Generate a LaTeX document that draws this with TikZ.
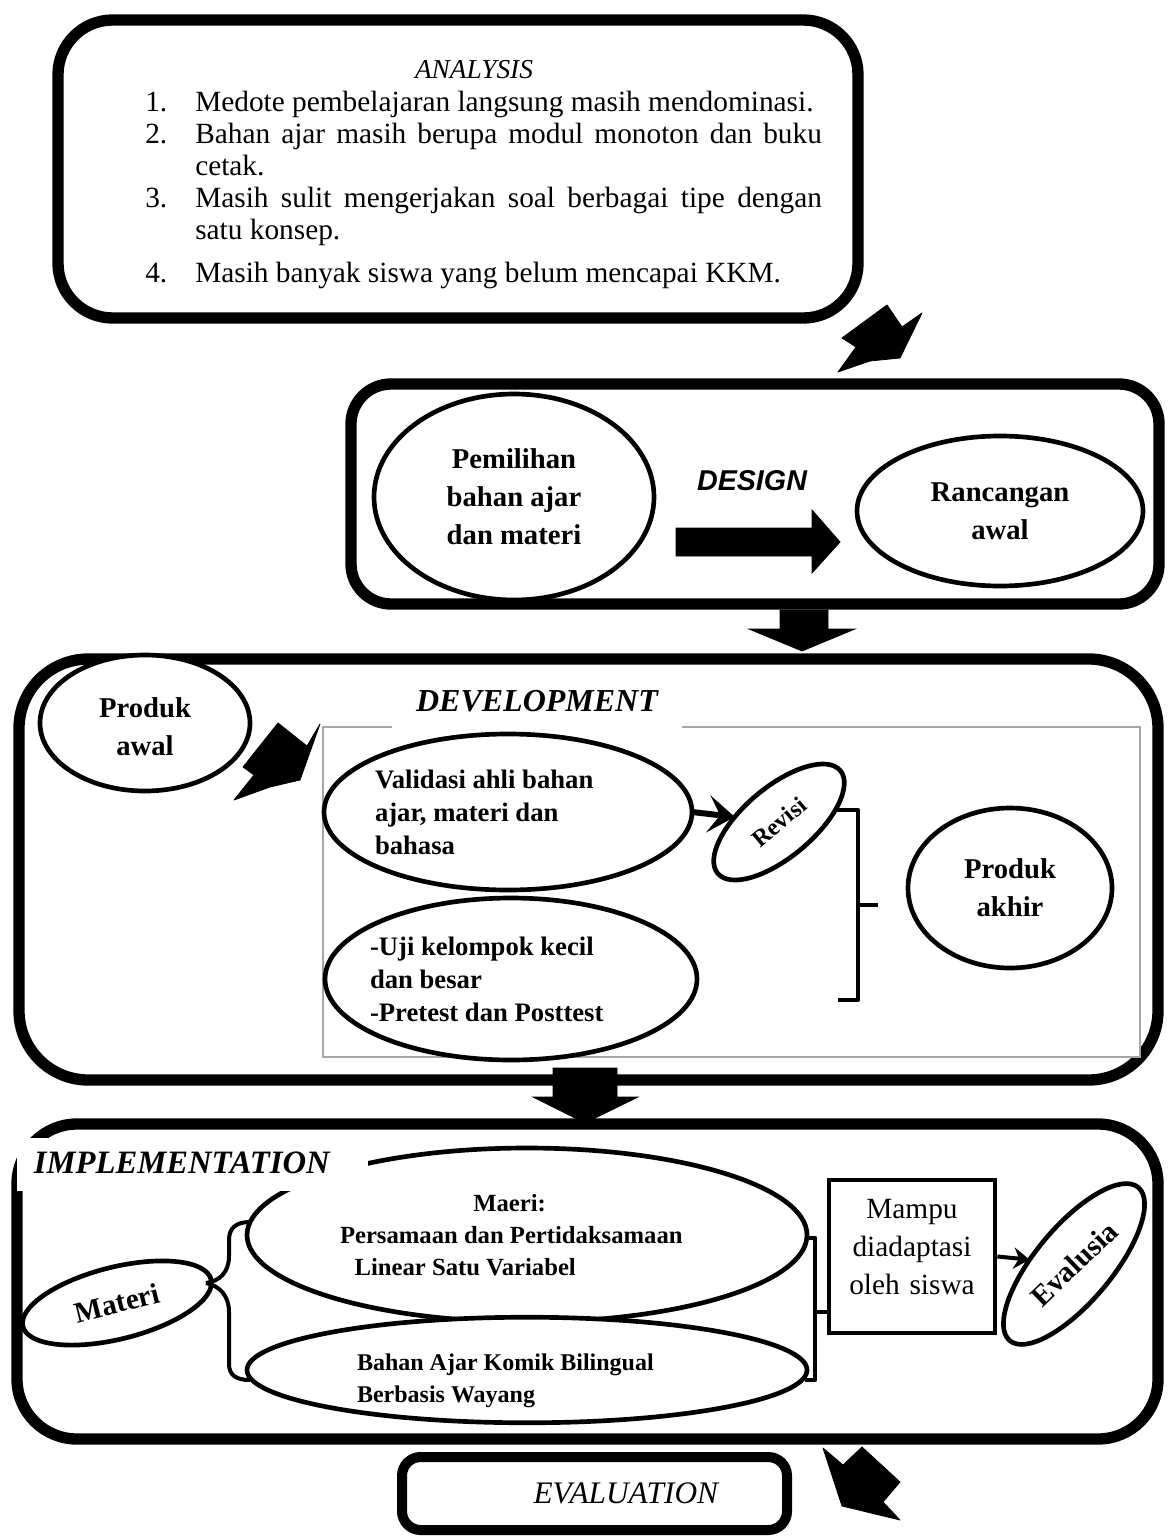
\documentclass[tikz,border=0pt]{standalone}
\usepackage{fontspec}
\setmainfont{Liberation Serif}
\newfontfamily\arialf{Liberation Sans}
\usetikzlibrary{shapes.geometric,arrows.meta}
\begin{document}
\begin{tikzpicture}[x=0.75pt,y=-0.75pt,
  bigbox/.style={draw=black, line width=8.5pt, rectangle, inner sep=0pt, outer sep=0pt},
  ell/.style={draw=black, line width=3.5pt, ellipse, fill=white, inner sep=0pt, outer sep=0pt},
  txt/.style={inner sep=0pt, font=\fontsize{22}{24}\selectfont},
  elltxt/.style={align=center, font=\fontsize{21.5}{28.5}\selectfont\bfseries},
  smalltxt/.style={align=flush left, font=\fontsize{20}{24.75}\selectfont\bfseries},
  impltxt/.style={align=flush left, font=\fontsize{18.5}{24}\selectfont\bfseries},
  fancyarrow/.style={fill=black, draw=black, line width=0.6pt, line join=round},
  blockarrow/.style={fill=black, draw=black, line width=0.6pt},
  conn/.style={draw=black, line width=3.5pt, line join=round}
]
\useasboundingbox (0,0) rectangle (1168,1537);
\fill[white] (0,0) rectangle (1168,1537);

% ---------------- big boxes ----------------
\node[bigbox, rounded corners=41pt, minimum width=600pt, minimum height=223.5pt] (analysisbox) at (458,169) {};
\node[bigbox, rounded corners=30pt, minimum width=606pt, minimum height=165pt] (designbox) at (755,494) {};
\node[bigbox, rounded corners=52pt, minimum width=854.25pt, minimum height=315.75pt] (devbox) at (588.5,869.5) {};
\node[bigbox, rounded corners=45pt, minimum width=855.75pt, minimum height=236.25pt] (implbox) at (587.5,1281.5) {};
\node[bigbox, line width=7.5pt, rounded corners=14pt, minimum width=288.75pt, minimum height=54.75pt,
      font=\fontsize{23.5}{28}\selectfont\itshape] (evalbox) at (594.5,1493.5) {\hspace*{47pt}EVALUATION};

% ---------------- ANALYSIS ----------------
\node[inner sep=0pt, anchor=base, font=\fontsize{20.5}{24}\selectfont\itshape] (analysislbl) at (474,79) {ANALYSIS};
\node[txt, anchor=base west] (n1) at (145,112) {1.};
\node[txt, anchor=base west] (i1) at (195,112) {Medote pembelajaran langsung masih mendominasi.};
\node[txt, anchor=base west] (n2) at (145,144) {2.};
\node[txt, anchor=base west] (i2) at (195,144) {\parbox[t]{470pt}{Bahan ajar masih berupa modul monoton dan buku cetak.}};
\node[txt, anchor=base west] (n3) at (145,208) {3.};
\node[txt, anchor=base west] (i3) at (195,208) {\parbox[t]{470pt}{Masih sulit mengerjakan soal berbagai tipe dengan satu konsep.}};
\node[txt, anchor=base west] (n4) at (145,282) {4.};
\node[txt, anchor=base west] (i4) at (195,282) {Masih banyak siswa yang belum mencapai KKM.};

% arrow analysis -> design
\filldraw[fancyarrow] (887,305) -- (902,327) -- (922,313) -- (900,358) -- (870,361) -- (838,372) -- (856,347) -- (842,338) -- cycle;

% ---------------- DESIGN ----------------
\node[ell, elltxt, minimum width=210pt, minimum height=154.5pt] (pemilihan) at (514,497) {Pemilihan\\bahan ajar\\dan materi};
\node[inner sep=0pt, font=\arialf\fontsize{21.5}{24}\selectfont\bfseries\itshape] (designlbl) at (752,481) {DESIGN};
\node[ell, elltxt, minimum width=214.5pt, minimum height=112.5pt] (rancangan) at (1000,511) {Rancangan\\awal};
\filldraw[blockarrow] (676,528) -- (812,528) -- (812,510) -- (840,542) -- (812,573) -- (812,556) -- (676,556) -- cycle;

% arrow design -> development
\filldraw[blockarrow] (780,610) -- (828,610) -- (828,629) -- (855,629) -- (802,651) -- (749,629) -- (780,629) -- cycle;

% ---------------- DEVELOPMENT ----------------
\node[draw=gray!70, line width=1pt, fill=white, inner sep=0pt, minimum width=612.75pt, minimum height=247.5pt] (inner) at (731.5,892) {};
\node[fill=white, inner sep=0pt, minimum width=217.5pt, minimum height=44pt, font=\fontsize{24}{28}\selectfont\bfseries\itshape] (devlbl) at (537,701) {DEVELOPMENT};
\node[ell, elltxt, minimum width=157.5pt, minimum height=102pt] (produkawal) at (145,723) {\rule{0pt}{21pt}Produk\\awal};
\filldraw[fancyarrow] (278,723) -- (307,746) -- (320,724) -- (300,780) -- (270,787) -- (234,800) -- (254,775) -- (243,767) -- cycle;

\node[ell, smalltxt, text width=199.5pt, inner xsep=-2.5pt, minimum width=276pt, minimum height=117pt] (validasi) at (508,812) {Validasi ahli bahan\\ajar, materi dan\\bahasa};
\node[ell, smalltxt, text width=211.5pt, inner xsep=-7.5pt, minimum width=279pt, minimum height=121.5pt] (uji) at (511,979) {-Uji kelompok kecil\\dan besar\\-Pretest dan Posttest};
\node[ell, rotate=40, minimum width=120pt, minimum height=52.5pt, font=\fontsize{18}{20}\selectfont\bfseries] (revisi) at (779,822) {Revisi};
\draw[line width=4.5pt, -{Stealth[length=20pt,width=28pt,inset=9pt]}] (validasi.east) -- (revisi);
\node[ell, elltxt, minimum width=153pt, minimum height=120pt] (produkakhir) at (1010,888) {Produk\\akhir};
\coordinate (brtop) at (837,810);
\coordinate (brbot) at (838,1000);
\coordinate (brmid) at (878,905);
\draw[conn] (brtop) -- (858,810) -- (858,1000) -- (brbot);
\draw[conn] (858,905) -- (brmid);

% arrow development -> implementation
\filldraw[blockarrow] (553,1068) -- (617,1068) -- (617,1097) -- (638,1097) -- (585,1123) -- (533,1097) -- (553,1097) -- cycle;

% ---------------- IMPLEMENTATION ----------------
\node[ell, impltxt, text width=280.5pt, minimum width=420pt, minimum height=130.5pt] (maeri) at (527,1235)
  {\hspace*{100pt}Maeri:\\Persamaan dan Pertidaksamaan\\\hspace*{11pt}Linear Satu Variabel};
\node[ell, impltxt, font=\fontsize{18}{24}\selectfont\bfseries, text width=255pt, minimum width=420pt, minimum height=78pt] (bahan) at (527,1370)
  {\rule{0pt}{28pt}Bahan Ajar Komik Bilingual\\Berbasis Wayang};
\node[fill=white, inner sep=0pt, minimum width=263pt, minimum height=40pt, text width=252pt, align=left,
      font=\fontsize{24.5}{28}\selectfont\bfseries\itshape] (impllbl) at (192.5,1164.5) {\hspace*{7pt}\raisebox{3pt}{IMPLEMENTATION}};

\node[ell, rotate=14, minimum width=145.5pt, minimum height=54pt, font=\fontsize{22}{24}\selectfont\bfseries] (materi) at (117,1303) {Materi};
\coordinate (brjoin) at (206,1283);
\coordinate (brup) at (250,1222);
\coordinate (brdown) at (250,1380);
\draw[conn, line width=3pt] (brjoin) .. controls (220,1281) and (229,1272) .. (229,1256) -- (229,1240) .. controls (229,1228) and (236,1222) .. (brup);
\draw[conn, line width=3pt] (brjoin) .. controls (220,1286) and (229,1296) .. (229,1312) -- (229,1364) .. controls (229,1375) and (236,1380) .. (brdown);

\node[draw=black, line width=3.5pt, inner sep=0pt, minimum width=124.5pt, minimum height=114.75pt,
      text width=120pt, align=center, font=\fontsize{22}{28.5}\selectfont] (mampu) at (912,1256.5)
  {Mampu\\diadaptasi\\oleh siswa\rule[-15pt]{0pt}{15pt}};
\coordinate (mtop) at (805,1238);
\coordinate (mbot) at (805,1380);
\draw[conn] (mtop) -- (815,1238) -- (815,1380) -- (mbot);
\draw[conn] (815,1312) -- (mampu.west |- 0,1312);

\node[ell, rotate=50, minimum width=150pt, minimum height=57pt, font=\fontsize{22}{24}\selectfont\bfseries] (evalusia) at (1074,1264) {\rotatebox{-6}{Evalusia}};
\draw[line width=3pt, -{Stealth[length=12pt,width=16pt,inset=4pt]}] (mampu.east) -- (evalusia);

% ---------------- EVALUATION ----------------
\filldraw[fancyarrow] (823,1448) -- (843,1465) -- (862,1447) -- (900,1482) -- (883,1502) -- (900,1520) -- (842,1506) -- cycle;
\end{tikzpicture}
\end{document}
